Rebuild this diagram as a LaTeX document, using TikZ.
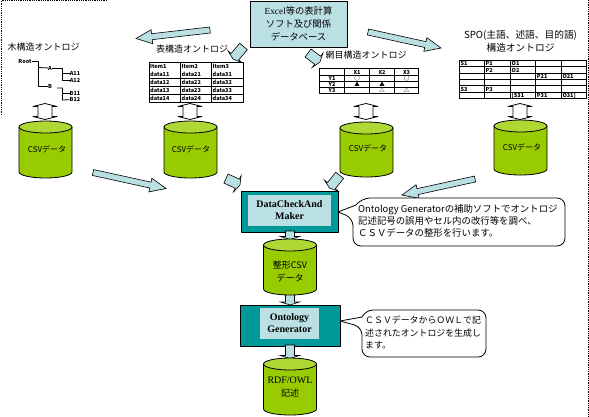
\documentclass[tikz,border=0pt]{standalone}
\usepackage{fontspec}
\setmainfont{Noto Sans CJK JP}
\newfontfamily\latinserif{Liberation Serif}
\usepackage{xcolor}
\usetikzlibrary{calc}
\definecolor{teal1}{HTML}{009999}
\definecolor{pale}{HTML}{BBE0E3}
\definecolor{olive1}{HTML}{99CC00}
\definecolor{olive2}{HTML}{B0D835}

\tikzset{
  storename/.style={inner sep=0pt, align=center, font=\fontsize{9}{13}\selectfont},
  csvname/.style={inner sep=0pt, font=\fontsize{8}{12}\selectfont},
  palebox/.style={draw=black, fill=pale, thick, inner sep=0pt, align=center},
  tool/.style={draw=black, fill=teal1, line width=1pt, inner sep=0pt},
  toolname/.style={fill=pale, inner sep=0pt, align=center, font=\fontsize{10}{12}\latinserif\bfseries},
  title/.style={inner sep=0pt, align=center, font=\fontsize{9}{13}\selectfont},
  cell/.style={inner sep=0pt, font=\fontsize{5.5}{6}\selectfont\bfseries},
  note/.style={inner sep=0pt, align=left, anchor=north west, font=\fontsize{9.4}{12}\selectfont},
  bubble/.style={draw=black, fill=white, thick},
  pics/swap/.style={code={
    \draw[fill=white, thick] (0,-8) -- (12,-5) -- (7,-5) -- (7,5) -- (12,5) -- (0,8)
      -- (-12,5) -- (-7,5) -- (-7,-5) -- (-12,-5) -- cycle;
  }},
  pics/storage/.style={code={
    \draw[fill=olive1, thick] (-26.5,6) -- (-26.5,#1-6) arc[start angle=180, end angle=360, x radius=26.5pt, y radius=6pt] -- (26.5,6) -- cycle;
    \draw[fill=olive2, thick] (0,6) ellipse [x radius=26.5pt, y radius=6pt];
  }}
}

% block arrow: tail, tip, half width of shaft, half width of head, length of head
\newcommand{\blockarrow}[5]{
  \draw[fill=pale, semithick, line join=miter]
    ($(#1)!#3pt!90:(#2)$) -- ($(#2)!#5pt!(#1)!#3pt!90:(#2)$)
    -- ($(#2)!#5pt!(#1)!#4pt!90:(#2)$) -- (#2)
    -- ($(#2)!#5pt!(#1)!#4pt!-90:(#2)$) -- ($(#2)!#5pt!(#1)!#3pt!-90:(#2)$)
    -- ($(#1)!#3pt!-90:(#2)$) -- cycle;
}

\begin{document}
\begin{tikzpicture}[x=1pt, y=-1pt, line join=round]

    \useasboundingbox (0,0) rectangle (589,416);

    % Dotted frame
    \draw[densely dotted, thick] (1,115) -- (1,0.5) -- (107,0.5);
    \draw[densely dotted, thick] (588,0) -- (588,416);

    % Source box
    \node[palebox, minimum width=97pt, minimum height=46pt, font=\fontsize{9.3}{13.2}\selectfont]
      (source) at (298.5,24) {{\latinserif Excel}等の表計算\\ソフト及び関係\\データベース};

    % Titles
    \node[title] (treetitle) at (43.5,47) {木構造オントロジ};
    \node[title] (tabletitle) at (192,49.5) {表構造オントロジ};
    \node[title] (nettitle) at (366,55.5) {網目構造オントロジ};
    \node[title, font=\fontsize{9.7}{13}\selectfont] (spotitle) at (520.5,41.5) {SPO(主語、述語、目的語)\\構造オントロジ};

    % Tree
    \node[cell] (root) at (25,61) {Root};
    \node[cell] (a) at (50,68) {A};
    \node[cell] (b) at (50,86) {B};
    \node[cell] (a11) at (75,73.5) {A11};
    \node[cell] (a12) at (75,80) {A12};
    \node[cell] (b11) at (75,93) {B11};
    \node[cell] (b12) at (75,99.5) {B12};
    \begin{scope}[thick]
    \draw (root) -- (38,61) -- (38,86) -- (b);
    \draw (38,67.5) -- (a);
    \draw (a) -- (62.5,68) -- (62.5,80) -- (a12);
    \draw (62.5,73.5) -- (a11);
    \draw (57,88) -- (62.5,88) -- (62.5,100) -- (b12);
    \draw (62.5,93) -- (b11);
    \end{scope}

    % Item table
    \draw[thick] (149,62.5) rectangle (243,102);
    \foreach \rowy in {78.5,86.5,94.5}
      \draw[thick] (149,\rowy) -- (243,\rowy);
    \foreach \colx in {180.5,211.5}
      \draw[thick] (\colx,62.5) -- (\colx,102);
    \foreach \rowy/\first/\second/\third in {66.5/Item1/Item2/Item3, 74.5/data11/data21/data31,
        82.5/data12/data22/data32, 90.5/data13/data23/data33, 98.5/data14/data24/data34} {
      \node[cell, anchor=west] at (150,\rowy) {\first};
      \node[cell, anchor=west] at (181.5,\rowy) {\second};
      \node[cell, anchor=west] at (212.5,\rowy) {\third};
    }

    % Net table
    \draw[thick] (319.5,68.5) rectangle (418.5,93);
    \foreach \rowy in {75.5,81,87}
      \draw[thick] (319.5,\rowy) -- (418.5,\rowy);
    \foreach \colx in {344.5,369.5,394.5}
      \draw[thick] (\colx,68.5) -- (\colx,93);
    \foreach \colx/\rowy/\entry in {357/72/X1, 382/72/X2, 406.5/72/X3,
        332/78.3/Y1, 357/78.3/○, 406.5/78.3/○,
        332/84/Y2, 357/84/▲, 382/84/▲,
        332/90/Y3, 382/90/△, 406.5/90/△}
      \node[cell] at (\colx,\rowy) {\entry};

    % SPO table
    \draw[thick] (459.5,60.5) rectangle (586.5,98.5);
    \foreach \rowy in {66.8,73,79.3,85.7,92}
      \draw[thick] (459.5,\rowy) -- (586.5,\rowy);
    \foreach \colx in {484.5,510.5,535.7,561.3}
      \draw[thick] (\colx,60.5) -- (\colx,98.5);
    \foreach \colx/\rowy/\entry in {460.5/63.7/S1, 485.5/63.7/P1, 511.5/63.7/O1,
        485.5/70/P2, 511.5/70/O2,
        536.7/76.2/P21, 562.3/76.2/O21,
        460.5/89/S3, 485.5/89/P3,
        511.5/95.3/{[S31}, 536.7/95.3/P31, 562.3/95.3/{O31]}}
      \node[cell, anchor=west] at (\colx,\rowy) {\entry};

    % Up-down arrows
    \pic at (45,111.5) {swap};
    \pic at (190,111.5) {swap};
    \pic at (366,111.5) {swap};
    \pic at (520,111.5) {swap};

    % CSV cylinders
    \pic at (45.5,121) {storage=57};
    \pic at (190.5,121) {storage=57};
    \pic at (366.5,122) {storage=55};
    \pic at (520.5,120) {storage=55};
    \node[csvname] (csva) at (47,149) {CSVデータ};
    \node[csvname] (csvb) at (191,149) {CSVデータ};
    \node[csvname] (csvc) at (368,148) {CSVデータ};
    \node[csvname] (csvd) at (522,147) {CSVデータ};

    % Tools
    \node[tool, minimum width=97pt, minimum height=41pt] (checker) at (289.5,211.5) {};
    \node[toolname, minimum width=83pt, minimum height=31pt] (checkername) at (289.5,210.5) {DataCheckAnd\\Maker};
    \node[tool, minimum width=100pt, minimum height=41pt] (generator) at (290,325.5) {};
    \node[toolname, minimum width=59pt, minimum height=31pt] (generatorname) at (289.5,323.5) {Ontology\\Generator};

    % Short arrows between the tools and the stores
    \coordinate (checkerout) at (290,231);
    \coordinate (shapedin) at (290,239.5);
    \coordinate (shapedout) at (290,293);
    \coordinate (generatorin) at (290,305);
    \coordinate (generatorout) at (290,345);
    \coordinate (rdfin) at (290,358.5);
    \blockarrow{checkerout}{shapedin}{4.5}{9.5}{3}
    \blockarrow{shapedout}{generatorin}{4.5}{9.5}{3}
    \blockarrow{generatorout}{rdfin}{4.5}{9.5}{3}

    % Stores below the tools
    \pic at (290,239) {storage=56};
    \pic at (290,358) {storage=57};
    \node[storename] (shaped) at (290,271.5) {整形CSV\\データ};
    \node[storename] (rdf) at (290,387.5) {{\fontsize{10}{13}\latinserif RDF/OWL}\\記述};

    % Long arrows
    \coordinate (ataila) at (210,30);
    \coordinate (atipa) at (136,38.5);
    \coordinate (atailb) at (368,32);
    \coordinate (atipb) at (441,48);
    \coordinate (atailc) at (93,172.5);
    \coordinate (atipc) at (166,188.5);
    \coordinate (ataild) at (475,179);
    \coordinate (atipd) at (402,195);
    \blockarrow{ataila}{atipa}{3}{7}{16}
    \blockarrow{atailb}{atipb}{3}{7}{16}
    \blockarrow{atailc}{atipc}{3}{7}{16}
    \blockarrow{ataild}{atipd}{3}{7}{16}

    % Short fat arrows
    \coordinate (staila) at (243.5,46.5);
    \coordinate (stipa) at (233,59);
    \coordinate (stailb) at (308,53);
    \coordinate (stipb) at (320,62);
    \coordinate (stailc) at (226,178.5);
    \coordinate (stipc) at (240,185);
    \coordinate (staild) at (339.7,175.3);
    \coordinate (stipd) at (329.5,188);
    \blockarrow{staila}{stipa}{5}{9}{3}
    \blockarrow{stailb}{stipb}{5}{9}{3}
    \blockarrow{stailc}{stipc}{5}{9}{3}
    \blockarrow{staild}{stipd}{5}{9}{3}

    % Speech bubbles
    \coordinate (tipcheck) at (338,212);
    \draw[bubble] (tipcheck) -- (356,205) [rounded corners=8pt] -- (362,198) -- (565,198)
      -- (565,246) -- (353,246) -- (353,218) [sharp corners] -- cycle;
    \node[note] (checknote) at (358,204) {Ontology Generatorの補助ソフトでオントロジ\\記述記号の誤用やセル内の改行等を調べ、\\ＣＳＶデータの整形を行います。};
    \coordinate (tipgen) at (340,321);
    \draw[bubble] (tipgen) -- (362,317) [rounded corners=8pt] -- (365,310) -- (486,310)
      -- (486,357) -- (362,357) -- (362,327) [sharp corners] -- cycle;
    \node[note, font=\fontsize{8.9}{12.5}\selectfont] (gennote) at (365,316) {ＣＳＶデータからＯＷＬで記\\述されたオントロジを生成し\\ます。};

\end{tikzpicture}
\end{document}
